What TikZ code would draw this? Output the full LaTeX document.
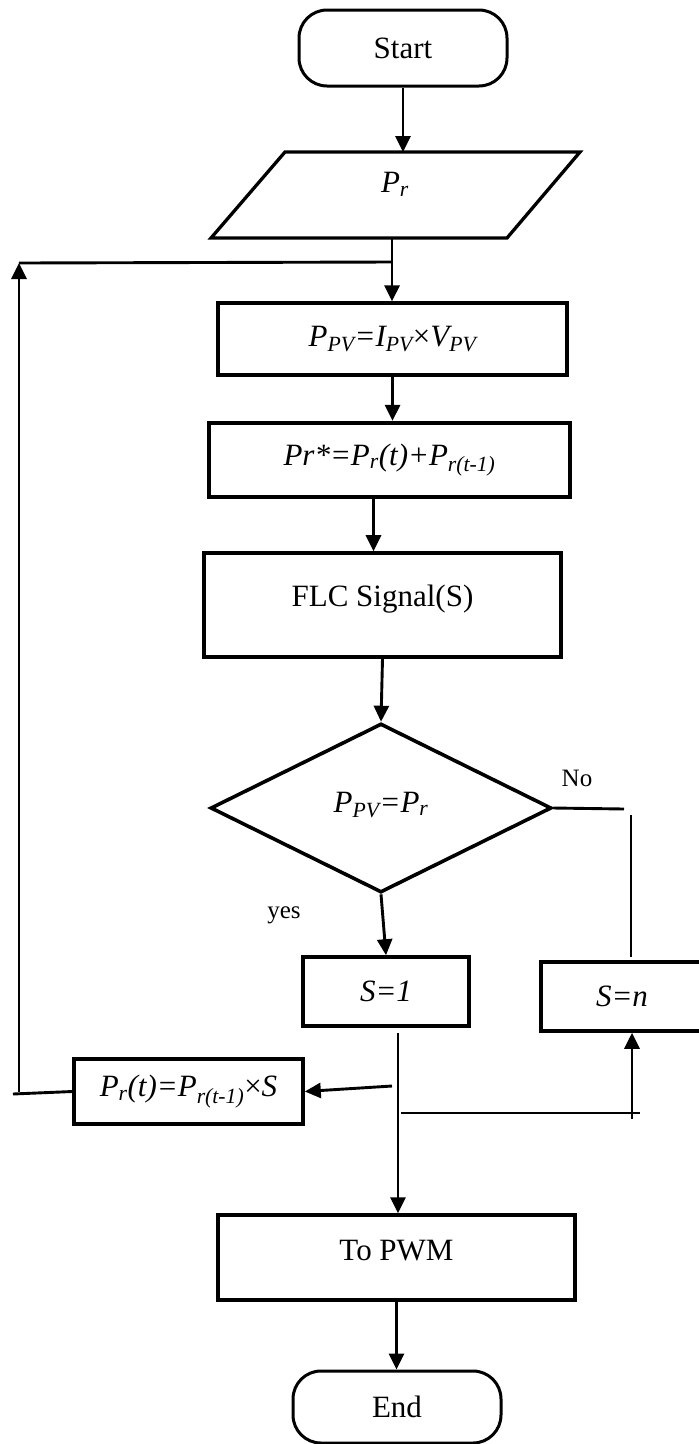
\documentclass[tikz,border=0pt]{standalone}
\usepackage{fontspec}
\setmainfont{Liberation Serif}
\usetikzlibrary{arrows.meta,shapes.geometric}

\newcommand{\sub}[1]{\textsubscript{#1}}

\begin{document}
\begin{tikzpicture}[x=1pt,y=-1pt,
  every node/.style={font=\fontsize{31}{36}\selectfont, inner sep=0pt},
  box/.style={draw, line width=3.2pt, rectangle},
  thickbox/.style={draw, line width=4.2pt, rectangle},
  term/.style={draw, line width=3pt, rectangle, rounded corners=28pt},
  lbl/.style={font=\fontsize{25}{30}\selectfont},
  conn/.style={line width=2.9pt},
  arr/.style={conn, -{Triangle[length=16pt,width=15pt]}}
]
\useasboundingbox (0,0) rectangle (699,1444);

% terminals and process boxes
\node[term, minimum width=208pt, minimum height=76pt] (start) at (403,48) {Start};

\coordinate (pa) at (211,238);
\coordinate (pb) at (507,238);
\coordinate (pc) at (580,152);
\coordinate (pd) at (285,152);
\draw[line width=3.3pt, line join=miter] (pa) -- (pb) -- (pc) -- (pd) -- cycle;
\node (pr) at (395,184) {\itshape P\sub{r}};
\coordinate (prtop) at (402,152);
\coordinate (prbot) at (392,238);

\node[box, minimum width=349pt, minimum height=72pt] (ppv) at (392.5,339)
  {\itshape P\sub{PV}=I\sub{PV}{\upshape ×}V\sub{PV}};
\node[thickbox, minimum width=361pt, minimum height=74pt] (prs) at (389.5,460)
  {\itshape Pr*=P\sub{r}(t)+P\sub{r(t-1)}};
\node[box, line width=3.6pt, minimum width=357pt, minimum height=104pt] (flc) at (382.5,605)
  {\raisebox{18pt}{FLC Signal(S)}};

\node[diamond, draw, line width=3.6pt, minimum width=341pt, minimum height=169pt,
      shape aspect=2.02] (dec) at (381,808) {\raisebox{12pt}{\itshape P\sub{PV}=P\sub{r}}};

\node[box, line width=3.6pt, minimum width=166pt, minimum height=69pt] (s1) at (386,991.5)
  {\itshape S=1};
\node[box, line width=3.6pt, minimum width=162pt, minimum height=69pt] (sn) at (622,996.5)
  {\itshape S=n};
\node[box, line width=3.6pt, minimum width=229pt, minimum height=65pt] (prt) at (188.5,1091.5)
  {\itshape P\sub{r}(t)=P\sub{r(t-1)}{\upshape ×}S};
\node[box, line width=3.3pt, minimum width=357pt, minimum height=85pt] (pwm) at (396.5,1257.5)
  {\raisebox{14pt}{To PWM}};
\node[term, minimum width=208pt, minimum height=72pt] (end) at (397,1407) {End};

% branch labels
\node[lbl] (no) at (577,778) {No};
\node[lbl] (yes) at (284,915) {yes};

% helper points of the connectors
\coordinate (join) at (392,262);
\coordinate (loopcorner) at (19,263);
\coordinate (loopbottom) at (19,1092);
\coordinate (loopend) at (13,1094);
\coordinate (noend) at (624,809);
\coordinate (nodown1) at (631,815);
\coordinate (nodown2) at (631,957);
\coordinate (s1out) at (398,1033);
\coordinate (fb) at (392,1086);
\coordinate (busl) at (401,1113);
\coordinate (busr) at (640,1113);
\coordinate (snin) at (632,1119);

% main flow
\draw[arr] (start.south) -- (start.south |- prtop);
\draw[arr] (prbot) -- (prbot |- ppv.north);
\draw[arr] (ppv.south) -- (ppv.south |- prs.north);
\draw[arr] ([xshift=-16pt]prs.south) -- ([xshift=-16pt]prs.south |- flc.north);
\draw[arr] (flc.south) -- (dec.north);
\draw[arr] (dec.south) -- (s1.north);
\draw[arr] (s1out) -- (s1out |- pwm.north);
\draw[arr] (pwm.south) -- (pwm.south |- end.north);

% "No" branch
\draw[conn] (dec.east) -- (noend);
\draw[conn] (nodown1) -- (nodown2);

% feedback and loop
\draw[arr] (fb) -- (prt.east);
\draw[conn] (busl) -- (busr);
\draw[arr] (snin) -- (snin |- sn.south);
\draw[conn] (prt.west) -- (loopend);
\draw[arr] (loopbottom) -- (loopcorner);
\draw[conn] (loopcorner) -- (join);
\end{tikzpicture}
\end{document}
